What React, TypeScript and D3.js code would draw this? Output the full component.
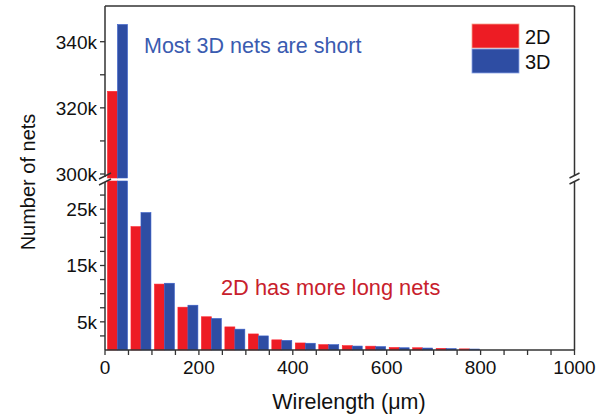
import React from "react";
import * as d3 from "d3";

const binStarts = [0, 50, 100, 150, 200, 250, 300, 350, 400, 450, 500, 550, 600, 650, 700, 750];
const values2D = [325000, 21900, 11700, 7600, 5900, 4100, 2850, 1800, 1250, 950, 770, 680, 450, 400, 300, 200];
const values3D = [345200, 24400, 11850, 7950, 5600, 3700, 2500, 1700, 1200, 950, 700, 600, 400, 350, 250, 170];
const seriesNames = ["2D", "3D"];
const xTickLabels = [0, 200, 400, 600, 800, 1000];
const upperTickLabels = [300000, 320000, 340000];
const lowerTickLabels = [5000, 15000, 25000];

const RED = "#ed1c24";
const BLUE = "#2e4da3";
const FONT = "'Liberation Sans', Arial, sans-serif";

export default function App() {
  const W = 610, H = 415;
  const left = 105, right = 574.5, top = 6, bottom = 350;
  const upBottom = 178, lowTop = 181;
  const binW = 50;

  const x = d3.scaleLinear().domain([0, 1000]).range([left, right]);
  const yUp = d3.scaleLinear().domain([300000, 340000]).range([174, 41.7]);
  const yLow = d3.scaleLinear().domain([0, 30000]).range([bottom, lowTop]);

  const bw = x(binW) - x(0);
  const barW = (bw - 3.5) / 2;

  const bars: React.ReactNode[] = [];
  const drawBar = (key: string, x0: number, v: number, color: string) => {
    const lowV = Math.min(v, 30000);
    const yl = yLow(lowV);
    const edge = d3.color(color)!.brighter(0.6).toString();
    bars.push(
      <rect key={key + "l"} x={x0} y={yl} width={barW} height={bottom - yl} fill={color} stroke={edge} strokeWidth={0.6} />
    );
    if (v > 300000) {
      const yu = Math.max(top, yUp(v));
      bars.push(
        <rect key={key + "u"} x={x0} y={yu} width={barW} height={upBottom - yu} fill={color} stroke={edge} strokeWidth={0.6} />
      );
    }
  };
  binStarts.forEach((b, i) => {
    const x0 = x(b) + 2.5;
    drawBar("r" + i, x0, values2D[i], RED);
    drawBar("b" + i, x0 + barW, values3D[i], BLUE);
  });

  const xMinor = d3.range(0, 1001, 50);
  const upMinor = d3.range(300000, 340001, 10000);
  const lowMinor = d3.range(2500, 27501, 2500);

  const axisColor = "#333";
  const fmtK = (v: number) => `${v / 1000}k`;

  return (
    <svg width={W} height={H} style={{ display: "block", position: "absolute", left: 0, top: 0 }} fontFamily={FONT}>
      <rect width={W} height={H} fill="#fff" />
      {bars}
      <line x1={left} x2={right} y1={top} y2={top} stroke={axisColor} strokeWidth={1.5} />
      <line x1={right} x2={right} y1={top} y2={bottom} stroke={axisColor} strokeWidth={1.5} />
      <line x1={left} x2={right} y1={bottom} y2={bottom} stroke={axisColor} strokeWidth={1.5} />
      <line x1={left} x2={left} y1={top} y2={upBottom - 1} stroke={axisColor} strokeWidth={1.5} />
      <line x1={left} x2={left} y1={lowTop + 1} y2={bottom} stroke={axisColor} strokeWidth={1.5} />
      <line x1={99} x2={111} y1={179} y2={173} stroke={axisColor} strokeWidth={1.4} />
      <line x1={99} x2={111} y1={185} y2={179} stroke={axisColor} strokeWidth={1.4} />
      <rect x={right - 4} y={176} width={8} height={5} fill="#fff" />
      <line x1={right - 5} x2={right + 5} y1={178} y2={173} stroke={axisColor} strokeWidth={1.4} />
      <line x1={right - 5} x2={right + 5} y1={184} y2={179} stroke={axisColor} strokeWidth={1.4} />
      {xMinor.map((t) => (
        <line key={"xt" + t} x1={x(t)} x2={x(t)} y1={bottom} y2={bottom + 5} stroke={axisColor} strokeWidth={1.3} />
      ))}
      {xTickLabels.map((t) => (
        <text key={"xl" + t} x={x(t)} y={373.5} textAnchor="middle" fontSize={19} fill="#111">{t}</text>
      ))}
      {upMinor.map((t) => (
        <line key={"ut" + t} x1={left - 5} x2={left} y1={yUp(t)} y2={yUp(t)} stroke={axisColor} strokeWidth={1.3} />
      ))}
      {upperTickLabels.map((t) => (
        <text key={"ul" + t} x={97} y={yUp(t)} dy="0.36em" textAnchor="end" fontSize={19} fill="#111">{fmtK(t)}</text>
      ))}
      {lowMinor.map((t) => (
        <line key={"lt" + t} x1={left - 5} x2={left} y1={yLow(t)} y2={yLow(t)} stroke={axisColor} strokeWidth={1.3} />
      ))}
      {lowerTickLabels.map((t) => (
        <text key={"ll" + t} x={97} y={yLow(t)} dy="0.36em" textAnchor="end" fontSize={19} fill="#111">{fmtK(t)}</text>
      ))}
      <text x={349} y={409} textAnchor="middle" fontSize={21.5} fill="#111">Wirelength (μm)</text>
      <text transform="translate(35,182) rotate(-90)" textAnchor="middle" fontSize={20} fill="#111">Number of nets</text>
      <rect x={472} y={24} width={47} height={24} fill={RED} stroke="#f7a08a" strokeWidth={0.8} />
      <rect x={472} y={49} width={47} height={24} fill={BLUE} stroke="#8aa4e6" strokeWidth={0.8} />
      <text x={525} y={43.5} fontSize={20} fill="#111">{seriesNames[0]}</text>
      <text x={525} y={68.5} fontSize={20} fill="#111">{seriesNames[1]}</text>
      <text x={144} y={53} fontSize={21.5} fill="#3a5bb0">Most 3D nets are short</text>
      <text x={221} y={295} fontSize={21.8} fill="#c8202c">2D has more long nets</text>
    </svg>
  );
}
